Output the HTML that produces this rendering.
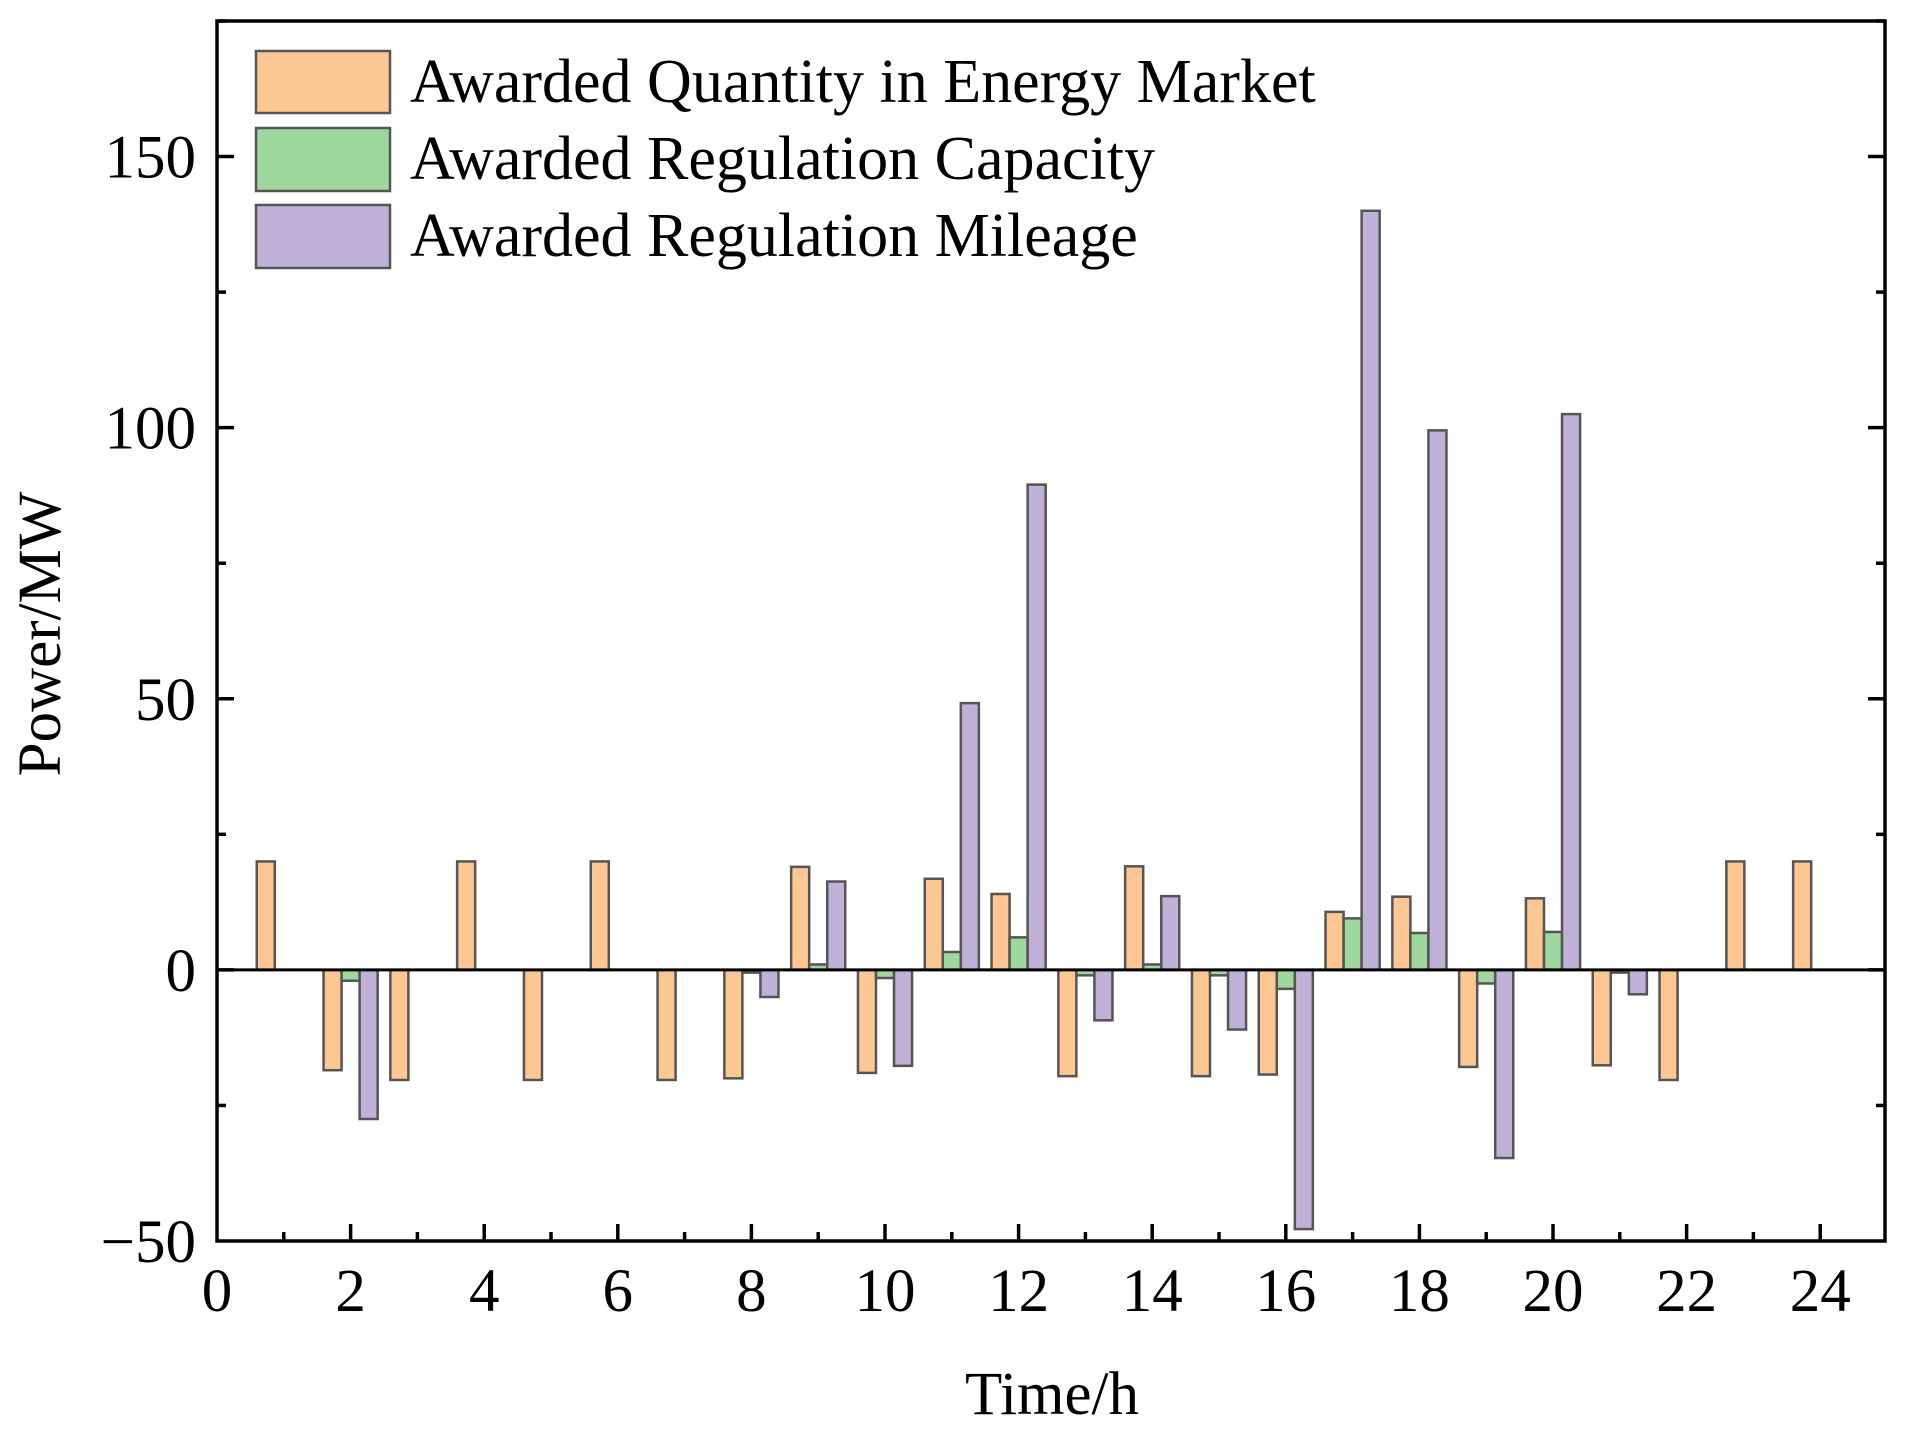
<!DOCTYPE html>
<html><head><meta charset="utf-8"><style>
html,body{margin:0;padding:0;background:#fff}
svg{display:block;font-family:"Liberation Serif",serif}
</style></head><body>
<svg id="chart" width="1909" height="1432" viewBox="0 0 1909 1432" xmlns="http://www.w3.org/2000/svg">
<g id="marks"></g>
<g id="axes"></g>
<g>
 <g><rect x="256" y="51" width="134" height="62" fill="#FDC793" stroke="#555" stroke-width="2.5"/><text x="410" y="102" font-size="62">Awarded Quantity in Energy Market</text></g>
 <g><rect x="256" y="128" width="134" height="63" fill="#9ED89E" stroke="#555" stroke-width="2.5"/><text x="410" y="179" font-size="62">Awarded Regulation Capacity</text></g>
 <g><rect x="256" y="205" width="134" height="63" fill="#C0B1D8" stroke="#555" stroke-width="2.5"/><text x="410" y="256" font-size="62">Awarded Regulation Mileage</text></g>
</g>
<text x="1052" y="1414" font-size="61" text-anchor="middle">Time/h</text>
<text transform="translate(60,634) rotate(-90)" font-size="61" text-anchor="middle">Power/MW</text>
</svg>
<script>
const hours=[1,2,3,4,5,6,7,8,9,10,11,12,13,14,15,16,17,18,19,20,21,22,23,24];
const energy=[20,-18.5,-20.3,20,-20.3,20,-20.3,-20,19,-19,16.8,14,-19.6,19.1,-19.6,-19.3,10.7,13.5,-17.9,13.2,-17.6,-20.3,20,20];
const capacity=[0,-2,0,0,0,0,0,-0.5,1,-1.5,3.3,6,-1,1,-1,-3.5,9.5,6.8,-2.5,7,-0.5,0,0,0];
const mileage=[0,-27.5,0,0,0,0,0,-5,16.3,-17.7,49.2,89.5,-9.3,13.6,-11,-47.8,140,99.5,-34.7,102.5,-4.5,0,0,0];
const xTicks=[0,2,4,6,8,10,12,14,16,18,20,22,24];
const yTicks=[-50,0,50,100,150];
const L=217,R=1885,T=21,B=1241;
const xmin=0,xmax=24.97,ymin=-50,ymax=175;
const X=v=>L+(v-xmin)/(xmax-xmin)*(R-L);
const Y=v=>B-(v-ymin)/(ymax-ymin)*(B-T);
const NS="http://www.w3.org/2000/svg";
function mk(tag,attrs,parent){const e=document.createElementNS(NS,tag);for(const k in attrs)e.setAttribute(k,attrs[k]);parent.appendChild(e);return e;}
const marks=document.getElementById('marks'),axes=document.getElementById('axes');
const bw=0.27;
const series=[[energy,-bw,'#FDC793','energy'],[capacity,0,'#9ED89E','capacity'],[mileage,bw,'#C0B1D8','mileage']];
series.forEach(([vals,off,col,nm])=>{
 hours.forEach((h,i)=>{
  const v=vals[i]; if(v===0) return;
  const x0=X(h+off-bw/2),x1=X(h+off+bw/2),y0=Y(Math.max(v,0)),y1=Y(Math.min(v,0));
  const r=mk('rect',{x:x0,y:y0,width:x1-x0,height:y1-y0,fill:col,stroke:'#555','stroke-width':2.5},marks);
  
  
 });
});
mk('line',{x1:L,x2:R,y1:Y(0),y2:Y(0),stroke:'#000','stroke-width':3},axes);
mk('rect',{x:L,y:T,width:R-L,height:B-T,fill:'none',stroke:'#000','stroke-width':3.5},axes);
for(let v=1;v<=24;v+=1){const maj=v%2===0;mk('line',{x1:X(v),x2:X(v),y1:B,y2:B-(maj?17:9),stroke:'#000','stroke-width':3.5},axes);}
xTicks.forEach(v=>{const t=mk('text',{x:X(v),y:1311,'font-size':61,'text-anchor':'middle'},axes);t.textContent=v;
 
 });
for(let v=-25;v<=175;v+=25){const maj=v%50===0;const len=maj?17:9;
 mk('line',{x1:L,x2:L+len,y1:Y(v),y2:Y(v),stroke:'#000','stroke-width':3.5},axes);
 mk('line',{x1:R,x2:R-len,y1:Y(v),y2:Y(v),stroke:'#000','stroke-width':3.5},axes);}
yTicks.forEach(v=>{const t=mk('text',{x:196,y:Y(v)+21,'font-size':61,'text-anchor':'end'},axes);t.textContent=v<0?'\u2212'+Math.abs(v):v;
 
 });
</script>
</body></html>
